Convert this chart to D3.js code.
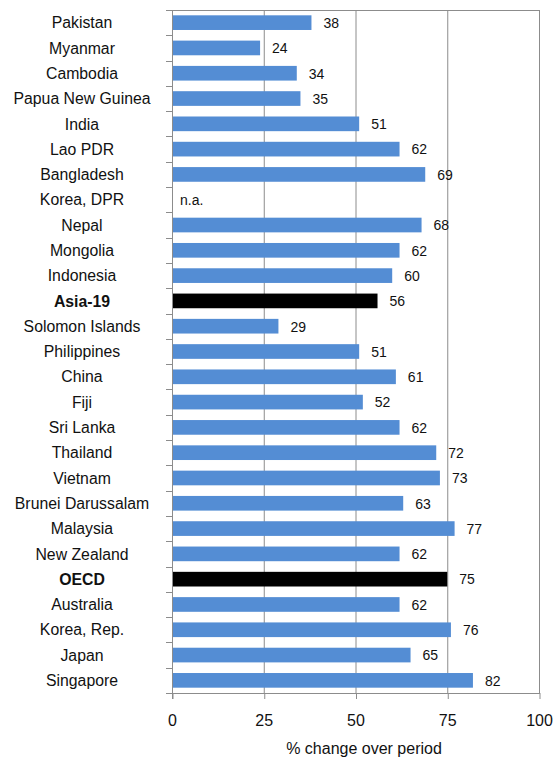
<!DOCTYPE html>
<html>
<head>
<meta charset="utf-8">
<script src="https://cdn.jsdelivr.net/npm/d3@7"></script>
<style>
  html, body { margin: 0; padding: 0; background: #fff; }
  svg { display: block; }
  text { font-family: "Liberation Sans", Arial, sans-serif; fill: #111; }
</style>
</head>
<body>
<div id="chart"></div>
<script>
// Economies, top to bottom
const categories = [
  "Pakistan", "Myanmar", "Cambodia", "Papua New Guinea", "India", "Lao PDR",
  "Bangladesh", "Korea, DPR", "Nepal", "Mongolia", "Indonesia", "Asia-19",
  "Solomon Islands", "Philippines", "China", "Fiji", "Sri Lanka", "Thailand",
  "Vietnam", "Brunei Darussalam", "Malaysia", "New Zealand", "OECD",
  "Australia", "Korea, Rep.", "Japan", "Singapore"
];
// % change over period (null = not available)
const values = [
  38, 24, 34, 35, 51, 62,
  69, null, 68, 62, 60, 56,
  29, 51, 61, 52, 62, 72,
  73, 63, 77, 62, 75,
  62, 76, 65, 82
];
// Aggregate rows drawn in black with bold labels
const aggregates = ["Asia-19", "OECD"];
const xTicks = [0, 25, 50, 75, 100];
const xTitle = "% change over period";

const W = 555, H = 759;
const plotLeft = 172, plotRight = 539, plotTop = 10, plotBottom = 693;

const svg = d3.select("#chart").append("svg")
  .attr("width", W).attr("height", H);

const x = d3.scaleLinear().domain([0, 100]).range([plotLeft, plotRight]);
const y = d3.scaleBand().domain(categories).range([plotTop, plotBottom]).paddingInner(0.42).paddingOuter(0.21);
const yb = d3.scaleBand().domain(categories).range([plotTop, plotBottom]);

const grid = "#8c8c8c";

// Vertical gridlines
svg.append("g").selectAll("line")
  .data(xTicks.filter(d => d > 0))
  .join("line")
  .attr("x1", d => x(d) + 0.5).attr("x2", d => x(d) + 0.5)
  .attr("y1", plotTop).attr("y2", plotBottom)
  .attr("stroke", grid).attr("stroke-width", 1);

// Top border
svg.append("line")
  .attr("x1", plotLeft).attr("x2", plotRight + 1)
  .attr("y1", plotTop + 0.5).attr("y2", plotTop + 0.5)
  .attr("stroke", grid);

// Bars
const data = categories.map((c, i) => ({ c, v: values[i] }));
svg.append("g").selectAll("rect")
  .data(data.filter(d => d.v !== null))
  .join("rect")
  .attr("x", x(0) + 1)
  .attr("y", d => y(d.c))
  .attr("width", d => x(d.v) - x(0) - 1)
  .attr("height", y.bandwidth())
  .attr("fill", d => aggregates.includes(d.c) ? "#000" : "#548dd4");

// Value labels
svg.append("g").selectAll("text")
  .data(data)
  .join("text")
  .attr("x", d => d.v === null ? x(0) + 8 : x(d.v) + 12)
  .attr("y", d => y(d.c) + y.bandwidth() / 2)
  .attr("dy", "0.38em")
  .attr("font-size", 14)
  .text(d => d.v === null ? "n.a." : d.v);

// Left axis: line plus ticks at row boundaries
const yAxis = svg.append("g");
yAxis.append("line")
  .attr("x1", plotLeft + 0.5).attr("x2", plotLeft + 0.5)
  .attr("y1", plotTop).attr("y2", plotBottom + 6)
  .attr("stroke", grid);
yAxis.selectAll("line.tick")
  .data(categories)
  .join("line")
  .attr("class", "tick")
  .attr("x1", plotLeft - 6).attr("x2", plotLeft)
  .attr("y1", d => Math.round(yb(d)) + 0.5).attr("y2", d => Math.round(yb(d)) + 0.5)
  .attr("stroke", grid);
// Category labels, centred in the left margin
yAxis.selectAll("text")
  .data(categories)
  .join("text")
  .attr("x", 82)
  .attr("y", d => yb(d) + yb.bandwidth() / 2)
  .attr("dy", "0.36em")
  .attr("text-anchor", "middle")
  .attr("font-size", 15.8)
  .attr("font-weight", d => aggregates.includes(d) ? "bold" : "normal")
  .text(d => d);

// Bottom axis
const xAxis = svg.append("g")
  .attr("transform", `translate(0,${plotBottom})`)
  .call(d3.axisBottom(x).tickValues(xTicks).tickSize(6).tickPadding(16));
xAxis.select(".domain").attr("stroke", grid).attr("d", `M${plotLeft - 6},0.5H${plotRight + 1}`);
xAxis.selectAll(".tick line").attr("stroke", grid).attr("transform", "translate(0.5,0)");
xAxis.selectAll(".tick text")
  .attr("font-size", 16)
  .attr("font-family", "Liberation Sans, Arial, sans-serif")
  .attr("fill", "#111");

svg.append("text")
  .attr("x", 364)
  .attr("y", 754)
  .attr("text-anchor", "middle")
  .attr("font-size", 16)
  .text(xTitle);
</script>
</body>
</html>
